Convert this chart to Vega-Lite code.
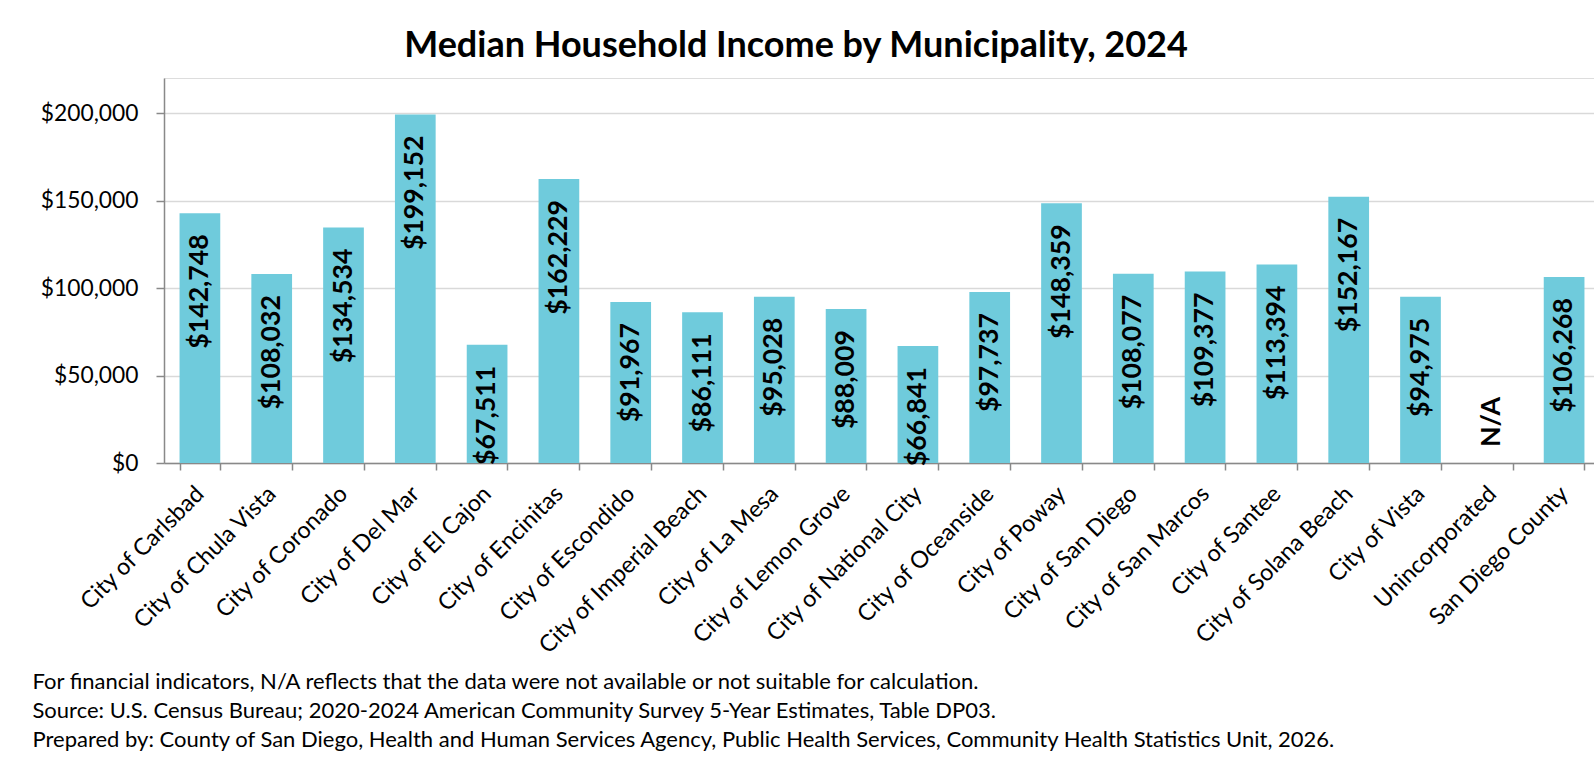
{
  "$schema": "https://vega.github.io/schema/vega-lite/v6.json",
  "autosize": "none",
  "width": 1430,
  "height": 385,
  "padding": {"left": 164, "top": 78, "right": 0, "bottom": 304},
  "background": "white",
  "title": {
    "text": "Median Household Income by Municipality, 2024",
    "font": "Lato",
    "fontSize": 36,
    "fontWeight": "bold",
    "color": "#000000",
    "anchor": "middle",
    "frame": "group",
    "dx": -83,
    "dy": 36,
    "baseline": "alphabetic",
    "offset": 21
  },
  "data": {
    "values": [
      {"muni": "City of Carlsbad", "income": 142748},
      {"muni": "City of Chula Vista", "income": 108032},
      {"muni": "City of Coronado", "income": 134534},
      {"muni": "City of Del Mar", "income": 199152},
      {"muni": "City of El Cajon", "income": 67511},
      {"muni": "City of Encinitas", "income": 162229},
      {"muni": "City of Escondido", "income": 91967},
      {"muni": "City of Imperial Beach", "income": 86111},
      {"muni": "City of La Mesa", "income": 95028},
      {"muni": "City of Lemon Grove", "income": 88009},
      {"muni": "City of National City", "income": 66841},
      {"muni": "City of Oceanside", "income": 97737},
      {"muni": "City of Poway", "income": 148359},
      {"muni": "City of San Diego", "income": 108077},
      {"muni": "City of San Marcos", "income": 109377},
      {"muni": "City of Santee", "income": 113394},
      {"muni": "City of Solana Beach", "income": 152167},
      {"muni": "City of Vista", "income": 94975},
      {"muni": "Unincorporated", "income": null},
      {"muni": "San Diego County", "income": 106268}
    ]
  },
  "encoding": {
    "x": {
      "field": "muni",
      "type": "nominal",
      "sort": ["City of Carlsbad", "City of Chula Vista", "City of Coronado", "City of Del Mar", "City of El Cajon", "City of Encinitas", "City of Escondido", "City of Imperial Beach", "City of La Mesa", "City of Lemon Grove", "City of National City", "City of Oceanside", "City of Poway", "City of San Diego", "City of San Marcos", "City of Santee", "City of Solana Beach", "City of Vista", "Unincorporated", "San Diego County"],
      "scale": {"range": [0, 1436], "paddingInner": 0.433, "paddingOuter": 0.2165},
      "axis": {
        "title": [
          "For financial indicators, N/A reflects that the data were not available or not suitable for calculation.",
          "Source: U.S. Census Bureau; 2020-2024 American Community Survey 5-Year Estimates, Table DP03.",
          "Prepared by: County of San Diego, Health and Human Services Agency, Public Health Services, Community Health Statistics Unit, 2026."
        ],
        "titleFont": "Lato",
        "titleFontSize": 22,
        "titleFontWeight": "normal",
        "titleColor": "#000000",
        "titleAlign": "left",
        "titleAnchor": "start",
        "titleBaseline": "alphabetic",
        "titleX": -132,
        "titleY": 225,
        "titleLineHeight": 29,
        "labelAngle": -45,
        "labelAlign": "right",
        "labelBaseline": "middle",
        "labelFont": "Lato",
        "labelFontSize": 23.4,
        "labelColor": "#000000",
        "labelPadding": 20,
        "labelOverlap": false,
        "labelLimit": 500,
        "labelBound": false,
        "tickBand": "extent",
        "tickSize": 7,
        "tickColor": "#898989",
        "tickWidth": 1.5,
        "domainColor": "#898989",
        "domainWidth": 1.5,
        "grid": false
      }
    }
  },
  "layer": [
    {
      "mark": {"type": "bar", "color": "#6FCBDC"},
      "encoding": {
        "y": {
          "field": "income",
          "type": "quantitative",
          "scale": {"domain": [0, 220000], "nice": false},
          "axis": {
            "title": null,
            "values": [0, 50000, 100000, 150000, 200000],
            "format": "$,.0f",
            "labelFont": "Lato",
            "labelFontSize": 22.8,
            "labelColor": "#000000",
            "labelPadding": 18,
            "tickSize": 8,
            "tickColor": "#898989",
            "tickWidth": 1.5,
            "domainColor": "#898989",
            "domainWidth": 1.5,
            "grid": true,
            "gridColor": "#d9d9d9",
            "gridWidth": 1.3
          }
        }
      }
    },
    {
      "transform": [{"filter": "datum.income != null"}],
      "mark": {
        "type": "text",
        "angle": -90,
        "align": "right",
        "baseline": "middle",
        "dx": -21,
        "font": "Lato",
        "fontSize": 26.7,
        "fontWeight": "bold",
        "color": "#000000"
      },
      "encoding": {
        "y": {"field": "income", "type": "quantitative"},
        "text": {"field": "income", "type": "quantitative", "format": "$,.0f"}
      }
    },
    {
      "transform": [{"filter": "datum.income == null"}],
      "mark": {
        "type": "text",
        "angle": -90,
        "align": "left",
        "baseline": "middle",
        "dx": 16,
        "font": "Lato",
        "fontSize": 26.7,
        "fontWeight": "bold",
        "color": "#000000"
      },
      "encoding": {
        "y": {"datum": 0, "type": "quantitative"},
        "text": {"value": "N/A"}
      }
    }
  ]
}
